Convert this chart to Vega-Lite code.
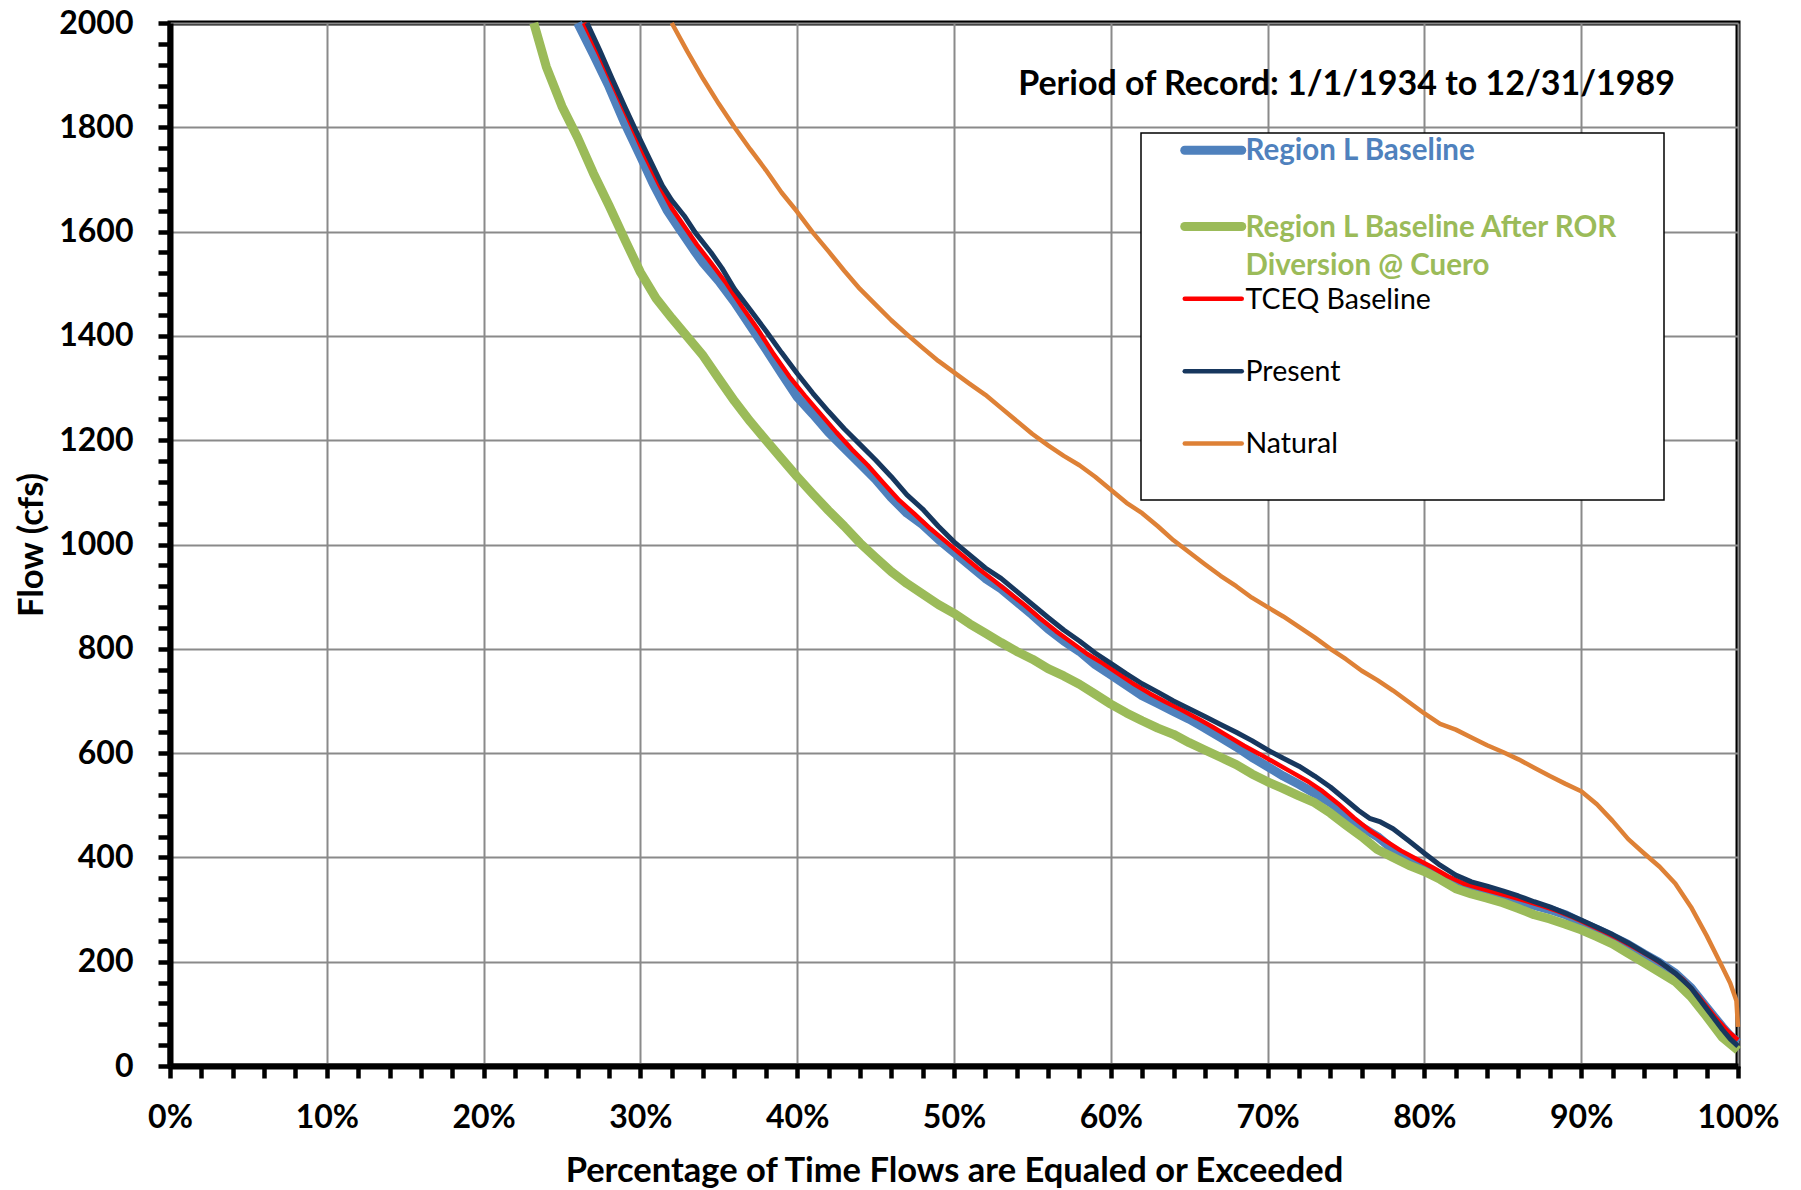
{
  "$schema": "https://vega.github.io/schema/vega-lite/v6.json",
  "width": 1568,
  "height": 1043,
  "autosize": {"type": "none"},
  "padding": {"left": 170, "top": 23, "right": 63, "bottom": 124},
  "background": "white",
  "config": {
    "view": {"stroke": "black", "strokeWidth": 5},
    "font": "Lato"
  },
  "title": {
    "text": "Period of Record: 1/1/1934 to 12/31/1989",
    "orient": "top",
    "anchor": "end",
    "frame": "group",
    "offset": -121.5,
    "baseline": "alphabetic",
    "dx": -63,
    "font": "Lato",
    "fontSize": 34,
    "fontWeight": "bold",
    "color": "black"
  },
  "datasets": {
    "blue": [
      {"p": 26.0, "f": 2000}, {"p": 27.0, "f": 1940}, {"p": 28.0, "f": 1878}, {"p": 29.0, "f": 1808},
      {"p": 30.0, "f": 1745}, {"p": 30.8, "f": 1693}, {"p": 31.7, "f": 1641}, {"p": 32.5, "f": 1605},
      {"p": 33.4, "f": 1565}, {"p": 34.0, "f": 1540}, {"p": 35.0, "f": 1505}, {"p": 36.0, "f": 1465},
      {"p": 37.0, "f": 1420}, {"p": 38.0, "f": 1375}, {"p": 39.0, "f": 1328}, {"p": 40.0, "f": 1283},
      {"p": 41.0, "f": 1250}, {"p": 42.0, "f": 1215}, {"p": 43.0, "f": 1185}, {"p": 44.0, "f": 1155},
      {"p": 45.0, "f": 1125}, {"p": 46.0, "f": 1090}, {"p": 47.0, "f": 1060}, {"p": 48.0, "f": 1038},
      {"p": 49.0, "f": 1010}, {"p": 50.0, "f": 985}, {"p": 51.0, "f": 960}, {"p": 52.0, "f": 935},
      {"p": 53.0, "f": 915}, {"p": 54.0, "f": 890}, {"p": 55.0, "f": 865}, {"p": 56.0, "f": 838},
      {"p": 57.0, "f": 815}, {"p": 58.0, "f": 795}, {"p": 59.0, "f": 770}, {"p": 60.0, "f": 750},
      {"p": 61.0, "f": 730}, {"p": 62.0, "f": 710}, {"p": 63.0, "f": 695}, {"p": 64.0, "f": 680},
      {"p": 65.0, "f": 665}, {"p": 66.0, "f": 648}, {"p": 67.0, "f": 630}, {"p": 68.0, "f": 612},
      {"p": 69.0, "f": 592}, {"p": 70.0, "f": 574}, {"p": 71.0, "f": 556}, {"p": 72.0, "f": 540},
      {"p": 73.0, "f": 523}, {"p": 74.0, "f": 505}, {"p": 75.0, "f": 480}, {"p": 76.0, "f": 458},
      {"p": 77.0, "f": 440}, {"p": 78.0, "f": 415}, {"p": 79.0, "f": 395}, {"p": 80.0, "f": 380},
      {"p": 81.0, "f": 362}, {"p": 82.0, "f": 350}, {"p": 83.0, "f": 342}, {"p": 84.0, "f": 333},
      {"p": 85.0, "f": 324}, {"p": 86.0, "f": 316}, {"p": 87.0, "f": 308}, {"p": 88.0, "f": 300},
      {"p": 89.0, "f": 290}, {"p": 90.0, "f": 275}, {"p": 91.0, "f": 262}, {"p": 92.0, "f": 248},
      {"p": 93.0, "f": 233}, {"p": 94.0, "f": 215}, {"p": 95.0, "f": 198}, {"p": 96.0, "f": 178},
      {"p": 97.0, "f": 150}, {"p": 98.0, "f": 112}, {"p": 99.0, "f": 75}, {"p": 99.5, "f": 58},
      {"p": 100.0, "f": 45}
    ],
    "green": [
      {"p": 23.2, "f": 2000}, {"p": 24.0, "f": 1916}, {"p": 25.0, "f": 1840}, {"p": 26.0, "f": 1780},
      {"p": 27.0, "f": 1712}, {"p": 28.0, "f": 1650}, {"p": 29.0, "f": 1585}, {"p": 30.0, "f": 1522},
      {"p": 31.0, "f": 1472}, {"p": 32.0, "f": 1434}, {"p": 33.0, "f": 1398}, {"p": 34.0, "f": 1362},
      {"p": 35.0, "f": 1318}, {"p": 36.0, "f": 1275}, {"p": 37.0, "f": 1236}, {"p": 38.0, "f": 1200},
      {"p": 39.0, "f": 1165}, {"p": 40.0, "f": 1130}, {"p": 41.0, "f": 1097}, {"p": 42.0, "f": 1065},
      {"p": 43.0, "f": 1035}, {"p": 44.0, "f": 1003}, {"p": 45.0, "f": 975}, {"p": 46.0, "f": 948},
      {"p": 47.0, "f": 925}, {"p": 48.0, "f": 905}, {"p": 49.0, "f": 885}, {"p": 50.0, "f": 868},
      {"p": 51.0, "f": 848}, {"p": 52.0, "f": 830}, {"p": 53.0, "f": 812}, {"p": 54.0, "f": 795},
      {"p": 55.0, "f": 780}, {"p": 56.0, "f": 762}, {"p": 57.0, "f": 748}, {"p": 58.0, "f": 732},
      {"p": 59.0, "f": 713}, {"p": 60.0, "f": 694}, {"p": 61.0, "f": 677}, {"p": 62.0, "f": 662},
      {"p": 63.0, "f": 648}, {"p": 64.0, "f": 636}, {"p": 65.0, "f": 620}, {"p": 66.0, "f": 606},
      {"p": 67.0, "f": 592}, {"p": 68.0, "f": 578}, {"p": 69.0, "f": 560}, {"p": 70.0, "f": 545},
      {"p": 71.0, "f": 532}, {"p": 72.0, "f": 518}, {"p": 73.0, "f": 505}, {"p": 74.0, "f": 485},
      {"p": 75.0, "f": 462}, {"p": 76.0, "f": 440}, {"p": 77.0, "f": 415}, {"p": 78.0, "f": 400},
      {"p": 79.0, "f": 385}, {"p": 80.0, "f": 373}, {"p": 81.0, "f": 358}, {"p": 82.0, "f": 340},
      {"p": 83.0, "f": 330}, {"p": 84.0, "f": 322}, {"p": 85.0, "f": 313}, {"p": 86.0, "f": 302},
      {"p": 87.0, "f": 290}, {"p": 88.0, "f": 282}, {"p": 89.0, "f": 272}, {"p": 90.0, "f": 261},
      {"p": 91.0, "f": 248}, {"p": 92.0, "f": 234}, {"p": 93.0, "f": 216}, {"p": 94.0, "f": 198},
      {"p": 95.0, "f": 180}, {"p": 96.0, "f": 162}, {"p": 97.0, "f": 133}, {"p": 98.0, "f": 95},
      {"p": 99.0, "f": 55}, {"p": 100.0, "f": 30}
    ],
    "red": [
      {"p": 26.4, "f": 2000}, {"p": 27.4, "f": 1938}, {"p": 28.4, "f": 1872}, {"p": 29.4, "f": 1805},
      {"p": 30.3, "f": 1745}, {"p": 31.2, "f": 1690}, {"p": 32.0, "f": 1645}, {"p": 32.8, "f": 1610},
      {"p": 33.6, "f": 1575}, {"p": 34.5, "f": 1540}, {"p": 35.5, "f": 1500}, {"p": 36.5, "f": 1455},
      {"p": 37.5, "f": 1412}, {"p": 38.5, "f": 1365}, {"p": 39.5, "f": 1322}, {"p": 40.5, "f": 1285},
      {"p": 41.5, "f": 1250}, {"p": 42.5, "f": 1215}, {"p": 43.5, "f": 1182}, {"p": 44.5, "f": 1152},
      {"p": 45.5, "f": 1118}, {"p": 46.5, "f": 1085}, {"p": 47.5, "f": 1058}, {"p": 48.5, "f": 1030},
      {"p": 49.5, "f": 1005}, {"p": 50.5, "f": 980}, {"p": 51.5, "f": 955}, {"p": 52.5, "f": 932},
      {"p": 53.5, "f": 908}, {"p": 54.5, "f": 884}, {"p": 55.5, "f": 858}, {"p": 56.5, "f": 834},
      {"p": 57.5, "f": 812}, {"p": 58.5, "f": 790}, {"p": 59.5, "f": 772}, {"p": 60.5, "f": 752},
      {"p": 61.5, "f": 732}, {"p": 62.5, "f": 714}, {"p": 63.5, "f": 698}, {"p": 64.5, "f": 683},
      {"p": 65.5, "f": 667}, {"p": 66.5, "f": 650}, {"p": 67.5, "f": 632}, {"p": 68.5, "f": 614},
      {"p": 69.5, "f": 598}, {"p": 70.5, "f": 581}, {"p": 71.5, "f": 564}, {"p": 72.5, "f": 547},
      {"p": 73.5, "f": 527}, {"p": 74.5, "f": 503}, {"p": 75.5, "f": 476}, {"p": 76.5, "f": 452},
      {"p": 77.5, "f": 432}, {"p": 78.5, "f": 413}, {"p": 79.5, "f": 397}, {"p": 80.5, "f": 381},
      {"p": 81.5, "f": 364}, {"p": 82.5, "f": 350}, {"p": 83.5, "f": 341}, {"p": 84.5, "f": 333},
      {"p": 85.5, "f": 325}, {"p": 86.5, "f": 316}, {"p": 87.5, "f": 307}, {"p": 88.5, "f": 297},
      {"p": 89.5, "f": 285}, {"p": 90.5, "f": 271}, {"p": 91.5, "f": 257}, {"p": 92.5, "f": 242},
      {"p": 93.5, "f": 225}, {"p": 94.5, "f": 208}, {"p": 95.5, "f": 189}, {"p": 96.5, "f": 166},
      {"p": 97.5, "f": 133}, {"p": 98.5, "f": 95}, {"p": 99.3, "f": 68}, {"p": 100.0, "f": 50}
    ],
    "navy": [
      {"p": 26.6, "f": 2000}, {"p": 27.4, "f": 1948}, {"p": 28.2, "f": 1893}, {"p": 29.0, "f": 1840},
      {"p": 29.8, "f": 1788}, {"p": 30.6, "f": 1738}, {"p": 31.4, "f": 1688}, {"p": 32.0, "f": 1660},
      {"p": 32.8, "f": 1630}, {"p": 33.5, "f": 1598}, {"p": 34.5, "f": 1560}, {"p": 35.2, "f": 1530},
      {"p": 36.0, "f": 1490}, {"p": 37.0, "f": 1450}, {"p": 38.0, "f": 1410}, {"p": 39.0, "f": 1368},
      {"p": 40.0, "f": 1328}, {"p": 41.0, "f": 1290}, {"p": 42.0, "f": 1255}, {"p": 43.0, "f": 1222},
      {"p": 44.0, "f": 1192}, {"p": 45.0, "f": 1162}, {"p": 46.0, "f": 1130}, {"p": 47.0, "f": 1095},
      {"p": 48.0, "f": 1068}, {"p": 49.0, "f": 1035}, {"p": 50.0, "f": 1005}, {"p": 51.0, "f": 980},
      {"p": 52.0, "f": 955}, {"p": 53.0, "f": 935}, {"p": 54.0, "f": 910}, {"p": 55.0, "f": 885},
      {"p": 56.0, "f": 860}, {"p": 57.0, "f": 836}, {"p": 58.0, "f": 815}, {"p": 59.0, "f": 792},
      {"p": 60.0, "f": 772}, {"p": 61.0, "f": 752}, {"p": 62.0, "f": 733}, {"p": 63.0, "f": 717},
      {"p": 64.0, "f": 700}, {"p": 65.0, "f": 685}, {"p": 66.0, "f": 670}, {"p": 67.0, "f": 655},
      {"p": 68.0, "f": 640}, {"p": 69.0, "f": 624}, {"p": 70.0, "f": 606}, {"p": 71.0, "f": 590},
      {"p": 72.0, "f": 575}, {"p": 73.0, "f": 556}, {"p": 74.0, "f": 535}, {"p": 75.0, "f": 510},
      {"p": 75.8, "f": 490}, {"p": 76.5, "f": 475}, {"p": 77.2, "f": 468}, {"p": 78.0, "f": 455},
      {"p": 79.0, "f": 432}, {"p": 80.0, "f": 408}, {"p": 81.0, "f": 385}, {"p": 82.0, "f": 366},
      {"p": 83.0, "f": 353}, {"p": 84.0, "f": 345}, {"p": 85.0, "f": 336}, {"p": 86.0, "f": 326},
      {"p": 87.0, "f": 315}, {"p": 88.0, "f": 305}, {"p": 89.0, "f": 293}, {"p": 90.0, "f": 280},
      {"p": 91.0, "f": 266}, {"p": 92.0, "f": 252}, {"p": 93.0, "f": 236}, {"p": 94.0, "f": 218},
      {"p": 95.0, "f": 200}, {"p": 96.0, "f": 178}, {"p": 97.0, "f": 150}, {"p": 98.0, "f": 110},
      {"p": 99.0, "f": 70}, {"p": 99.5, "f": 52}, {"p": 100.0, "f": 38}
    ],
    "orange": [
      {"p": 32.0, "f": 2000}, {"p": 33.0, "f": 1945}, {"p": 34.0, "f": 1893}, {"p": 35.0, "f": 1845},
      {"p": 36.0, "f": 1800}, {"p": 37.0, "f": 1758}, {"p": 38.0, "f": 1718}, {"p": 39.0, "f": 1675},
      {"p": 40.0, "f": 1638}, {"p": 41.0, "f": 1598}, {"p": 42.0, "f": 1562}, {"p": 43.0, "f": 1525},
      {"p": 44.0, "f": 1490}, {"p": 45.0, "f": 1460}, {"p": 46.0, "f": 1430}, {"p": 47.0, "f": 1403},
      {"p": 48.0, "f": 1377}, {"p": 49.0, "f": 1352}, {"p": 50.0, "f": 1330}, {"p": 51.0, "f": 1308},
      {"p": 52.0, "f": 1287}, {"p": 53.0, "f": 1262}, {"p": 54.0, "f": 1237}, {"p": 55.0, "f": 1212},
      {"p": 56.0, "f": 1190}, {"p": 57.0, "f": 1170}, {"p": 58.0, "f": 1152}, {"p": 59.0, "f": 1130},
      {"p": 60.0, "f": 1105}, {"p": 61.0, "f": 1080}, {"p": 62.0, "f": 1060}, {"p": 63.0, "f": 1035},
      {"p": 64.0, "f": 1008}, {"p": 65.0, "f": 985}, {"p": 66.0, "f": 962}, {"p": 67.0, "f": 940},
      {"p": 68.0, "f": 920}, {"p": 69.0, "f": 898}, {"p": 70.0, "f": 880}, {"p": 71.0, "f": 862},
      {"p": 72.0, "f": 842}, {"p": 73.0, "f": 822}, {"p": 74.0, "f": 800}, {"p": 75.0, "f": 780},
      {"p": 76.0, "f": 758}, {"p": 77.0, "f": 740}, {"p": 78.0, "f": 720}, {"p": 79.0, "f": 698},
      {"p": 80.0, "f": 676}, {"p": 81.0, "f": 656}, {"p": 82.0, "f": 645}, {"p": 83.0, "f": 630},
      {"p": 84.0, "f": 615}, {"p": 85.0, "f": 602}, {"p": 86.0, "f": 588}, {"p": 87.0, "f": 572},
      {"p": 88.0, "f": 556}, {"p": 89.0, "f": 541}, {"p": 90.0, "f": 527}, {"p": 91.0, "f": 502},
      {"p": 92.0, "f": 470}, {"p": 93.0, "f": 435}, {"p": 94.0, "f": 408}, {"p": 95.0, "f": 382},
      {"p": 96.0, "f": 350}, {"p": 97.0, "f": 305}, {"p": 98.0, "f": 250}, {"p": 98.5, "f": 220},
      {"p": 99.0, "f": 190}, {"p": 99.5, "f": 159}, {"p": 99.9, "f": 125}, {"p": 100.0, "f": 75}
    ]
  },
  "encoding": {
    "x": {
      "field": "p",
      "type": "quantitative",
      "scale": {"domain": [0, 100], "nice": false},
      "axis": {
        "values": [0,2,4,6,8,10,12,14,16,18,20,22,24,26,28,30,32,34,36,38,40,42,44,46,48,50,52,54,56,58,60,62,64,66,68,70,72,74,76,78,80,82,84,86,88,90,92,94,96,98,100],
        "labelExpr": "datum.value % 10 === 0 ? datum.value + '%' : ''",
        "labelFont": "Lato",
        "labelFontSize": 32,
        "labelFontWeight": "bold",
        "labelColor": "black",
        "labelPadding": 24,
        "labelOverlap": false,
        "labelFlush": false,
        "tickSize": 12,
        "tickColor": "black",
        "tickWidth": 4.5,
        "domainColor": "black",
        "domainWidth": 6,
        "grid": true,
        "gridColor": "#8a8a8a",
        "gridWidth": 2,
        "gridOpacity": {"condition": {"test": "datum.value % 10 === 0", "value": 1}, "value": 0},
        "title": "Percentage of Time Flows are Equaled or Exceeded",
        "titleFont": "Lato",
        "titleFontSize": 34.5,
        "titleFontWeight": "bold",
        "titleColor": "black",
        "titlePadding": 21,
        "encode": {
          "ticks": {
            "update": {
              "y": {"value": -11},
              "y2": {"signal": "datum.value % 10 === 0 ? 12 : 0"}
            }
          }
        }
      }
    },
    "y": {
      "field": "f",
      "type": "quantitative",
      "scale": {"domain": [0, 2000], "nice": false},
      "axis": {
        "values": [0,40,80,120,160,200,240,280,320,360,400,440,480,520,560,600,640,680,720,760,800,840,880,920,960,1000,1040,1080,1120,1160,1200,1240,1280,1320,1360,1400,1440,1480,1520,1560,1600,1640,1680,1720,1760,1800,1840,1880,1920,1960,2000],
        "labelExpr": "datum.value % 200 === 0 ? format(datum.value, 'd') : ''",
        "labelFont": "Lato",
        "labelFontSize": 32,
        "labelFontWeight": "bold",
        "labelColor": "black",
        "labelPadding": 25,
        "labelOverlap": false,
        "labelFlush": false,
        "tickSize": 12,
        "tickColor": "black",
        "tickWidth": 4.5,
        "domainColor": "black",
        "domainWidth": 6,
        "grid": true,
        "gridColor": "#8a8a8a",
        "gridWidth": 2,
        "gridOpacity": {"condition": {"test": "datum.value % 200 === 0", "value": 1}, "value": 0},
        "title": "Flow (cfs)",
        "titleFont": "Lato",
        "titleFontSize": 34.5,
        "titleFontWeight": "bold",
        "titleColor": "black",
        "titlePadding": 9,
        "encode": {
          "ticks": {
            "update": {
              "x": {"value": 11},
              "x2": {"signal": "datum.value % 200 === 0 ? -12 : 0"}
            }
          }
        }
      }
    }
  },
  "layer": [
    {
      "data": {"name": "blue"},
      "mark": {"type": "line", "strokeWidth": 9, "strokeJoin": "round"},
      "encoding": {
        "color": {
          "datum": "Region L Baseline",
          "type": "nominal",
          "scale": {
            "domain": ["Region L Baseline", "Region L Baseline After ROR Diversion @ Cuero", "TCEQ Baseline", "Present", "Natural"],
            "range": ["#4F81BD", "#9BBB59", "#FF0000", "#17375E", "#DE8136"]
          },
          "legend": {
            "title": " ",
            "titleOrient": "right",
            "titleFontSize": 10,
            "titlePadding": 42,
            "orient": "none",
            "legendX": 971,
            "legendY": 110,
            "padding": 3,
            "symbolType": "stroke",
            "symbolSize": 3249,
            "symbolOffset": 55,
            "symbolStrokeWidth": 4.5,
            "labelOffset": 18,
            "labelFont": "Lato",
            "labelFontSize": 28.5,
            "labelLimit": 700,
            "rowPadding": 4.3,
            "labelExpr": "datum.label == 'Region L Baseline After ROR Diversion @ Cuero' ? ['Region L Baseline After ROR', 'Diversion @ Cuero'] : [datum.label, ' ']",
            "encode": {
              "legend": {
                "update": {
                  "stroke": {"value": "black"},
                  "strokeWidth": {"value": 1.5},
                  "fill": {"value": "white"}
                }
              },
              "labels": {
                "update": {
                  "fill": {"signal": "datum.value === 'Region L Baseline' ? '#4F81BD' : (datum.value === 'Region L Baseline After ROR Diversion @ Cuero' ? '#9BBB59' : 'black')"},
                  "fontWeight": {"signal": "indexof(['Region L Baseline', 'Region L Baseline After ROR Diversion @ Cuero'], datum.value) >= 0 ? 'bold' : 'normal'"},
                  "fontSize": {"signal": "indexof(['Region L Baseline', 'Region L Baseline After ROR Diversion @ Cuero'], datum.value) >= 0 ? 29.5 : 28.5"},
                  "baseline": {"value": "top"},
                  "dy": {"value": -13},
                  "lineHeight": {"value": 38}
                }
              },
              "symbols": {
                "update": {
                  "strokeWidth": {"signal": "indexof(['Region L Baseline', 'Region L Baseline After ROR Diversion @ Cuero'], datum.value) >= 0 ? 9 : 4.5"},
                  "strokeCap": {"value": "round"}
                }
              }
            }
          }
        }
      }
    },
    {
      "data": {"name": "green"},
      "mark": {"type": "line", "strokeWidth": 9, "strokeJoin": "round"},
      "encoding": {"color": {"datum": "Region L Baseline After ROR Diversion @ Cuero", "type": "nominal"}}
    },
    {
      "data": {"name": "red"},
      "mark": {"type": "line", "strokeWidth": 4.5, "strokeJoin": "round"},
      "encoding": {"color": {"datum": "TCEQ Baseline", "type": "nominal"}}
    },
    {
      "data": {"name": "navy"},
      "mark": {"type": "line", "strokeWidth": 5, "strokeJoin": "round"},
      "encoding": {"color": {"datum": "Present", "type": "nominal"}}
    },
    {
      "data": {"name": "orange"},
      "mark": {"type": "line", "strokeWidth": 4.5, "strokeJoin": "round"},
      "encoding": {"color": {"datum": "Natural", "type": "nominal"}}
    }
  ]
}
